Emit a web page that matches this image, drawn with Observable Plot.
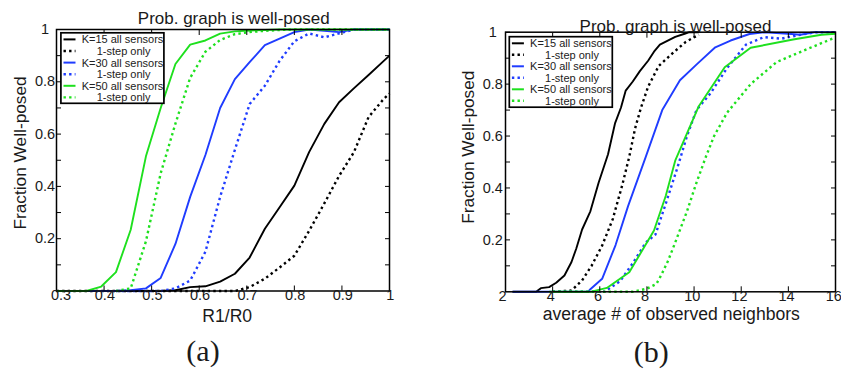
<!DOCTYPE html>
<html><head><meta charset="utf-8">
<script src="https://cdn.jsdelivr.net/npm/d3@7"></script>
<script src="https://cdn.jsdelivr.net/npm/@observablehq/plot@0.6"></script>
<style>
body{margin:0;background:#fff;}
#wrap{position:relative;width:841px;height:376px;overflow:hidden;font-family:"Liberation Sans",Arial,sans-serif;}
#wrap > svg{position:absolute;top:0;}
</style></head><body><div id="wrap"></div>
<script>
// ---------- data ----------
const titleText = "Prob. graph is well-posed";
const yLabelText = "Fraction Well-posed";
const xLabelA = "R1/R0";
const xLabelB = "average # of observed neighbors";
const captionA = "(a)";
const captionB = "(b)";
const legendLabels = ["K=15 all sensors", "1-step only", "K=30 all sensors", "1-step only", "K=50 all sensors", "1-step only"];
const seriesKeys = ["k15All", "k15Step", "k30All", "k30Step", "k50All", "k50Step"];

const xTicksA = [0.3, 0.4, 0.5, 0.6, 0.7, 0.8, 0.9, 1];
const xTicksB = [2, 4, 6, 8, 10, 12, 14, 16];
const yTicks = [0.1, 0.2, 0.3, 0.4, 0.5, 0.6, 0.7, 0.8, 0.9, 1];
const yTickLabels = [0.2, 0.4, 0.6, 0.8, 1];

// panel (a): R1/R0 grid
const xA = [0.3, 0.331, 0.363, 0.394, 0.425, 0.456, 0.488, 0.519, 0.55, 0.581, 0.613, 0.644, 0.675, 0.706, 0.738, 0.769, 0.8, 0.831, 0.863, 0.894, 0.925, 0.956, 0.988, 1.0];
const a_k15All  = [0, 0, 0, 0, 0, 0, 0, 0, 0.003, 0.015, 0.018, 0.036, 0.066, 0.128, 0.238, 0.32, 0.403, 0.531, 0.639, 0.722, 0.775, 0.826, 0.88, 0.90];
const a_k15Step = [0, 0, 0, 0, 0, 0, 0, 0, 0, 0, 0, 0, 0, 0.015, 0.047, 0.09, 0.135, 0.23, 0.335, 0.44, 0.53, 0.665, 0.735, 0.755];
const a_k30All  = [null, null, 0, 0, 0, 0.003, 0.01, 0.05, 0.18, 0.36, 0.52, 0.70, 0.81, 0.875, 0.94, 0.965, 0.99, 1.0, 0.995, 0.99, 1.0, 1.0, 1.0, 1.0];
const a_k30Step = [null, null, null, null, 0, 0, 0, 0, 0.01, 0.04, 0.15, 0.36, 0.54, 0.715, 0.785, 0.88, 0.955, 0.985, 0.97, 0.985, 1.0, 1.0, 1.0, 1.0];
const a_k50All  = [0, 0, 0, 0.017, 0.072, 0.234, 0.515, 0.70, 0.868, 0.942, 0.958, 0.984, 0.993, 0.996, 0.998, 1, 1, 1, 1, 1, 1, 1, 1, 1];
const a_k50Step = [null, null, null, null, 0, 0.01, 0.19, 0.45, 0.64, 0.815, 0.915, 0.96, 0.982, 0.99, 0.995, 0.998, 1, 1, 1, 1, 1, 1, 1, 1];

// panel (b): average # of observed neighbors
const b_k15All_x  = [2.3, 3.3, 3.5, 3.85, 4.15, 4.5, 4.8, 5.0, 5.25, 5.6, 5.95, 6.35, 6.65, 6.9, 7.1, 7.4, 7.7, 8.05, 8.3, 8.55, 9.2, 9.6, 9.8, 10.2];
const b_k15All_y  = [0, 0, 0.014, 0.018, 0.035, 0.063, 0.115, 0.166, 0.24, 0.31, 0.42, 0.53, 0.65, 0.71, 0.775, 0.81, 0.85, 0.89, 0.925, 0.952, 0.982, 0.994, 1.0, 1.0];
const b_k15Step_x = [4.0, 4.8, 5.25, 5.65, 6.1, 6.55, 6.95, 7.25, 7.5, 7.75, 8.05, 8.5, 9.1, 9.65, 10.2];
const b_k15Step_y = [0, 0.005, 0.044, 0.1, 0.178, 0.28, 0.41, 0.52, 0.63, 0.71, 0.79, 0.87, 0.92, 0.963, 0.99];
const b_k30All_x  = [2.3, 5.5, 5.6, 6.1, 6.67, 7.2, 7.95, 8.65, 9.4, 10.1, 10.9, 11.55, 12.35, 13.0, 14.0, 14.5, 15.1, 16];
const b_k30All_y  = [0, 0, 0.01, 0.05, 0.18, 0.33, 0.52, 0.70, 0.815, 0.875, 0.942, 0.968, 0.993, 1.0, 0.994, 0.99, 1.0, 1.0];
const b_k30Step_x = [4.0, 6.2, 6.85, 7.4, 7.95, 8.36, 8.8, 9.3, 9.7, 10.1, 10.7, 11.4, 12.2, 12.96, 13.7, 14.5, 15.2, 16];
const b_k30Step_y = [0, 0, 0.04, 0.11, 0.19, 0.22, 0.34, 0.48, 0.6, 0.7, 0.765, 0.862, 0.952, 0.981, 0.975, 0.99, 1.0, 1.0];
const b_k50All_x  = [3.85, 5.6, 6.3, 7.25, 8.3, 8.8, 9.2, 9.7, 10.2, 11.3, 12.4, 14.2, 15.4, 16];
const b_k50All_y  = [0, 0, 0.015, 0.075, 0.236, 0.37, 0.505, 0.61, 0.715, 0.865, 0.94, 0.972, 0.99, 0.994];
const b_k50Step_x = [4.0, 7.4, 8.0, 8.4, 8.6, 8.9, 9.2, 9.7, 10.1, 10.5, 10.85, 11.4, 12.4, 13.5, 14.8, 16];
const b_k50Step_y = [0, 0, 0.012, 0.03, 0.063, 0.12, 0.19, 0.31, 0.42, 0.52, 0.6, 0.69, 0.8, 0.885, 0.935, 0.98];

// ---------- styles ----------
const colors = {k15All: "#000000", k15Step: "#000000", k30All: "#1f3cff", k30Step: "#1f3cff", k50All: "#1ee01e", k50Step: "#1ee01e"};
const dotted = {k15All: false, k15Step: true, k30All: false, k30Step: true, k50All: false, k50Step: true};
const dash = "2.4,3.2";
const INK = "#1a1a1a";
const FONT = "Liberation Sans, Arial, Helvetica, sans-serif";

// ---------- build tables ----------
const panelA = {
  k15All: xA.map((x, i) => ({x, y: a_k15All[i]})),
  k15Step: xA.map((x, i) => ({x, y: a_k15Step[i]})),
  k30All: xA.map((x, i) => ({x, y: a_k30All[i]})),
  k30Step: xA.map((x, i) => ({x, y: a_k30Step[i]})),
  k50All: xA.map((x, i) => ({x, y: a_k50All[i]})),
  k50Step: xA.map((x, i) => ({x, y: a_k50Step[i]}))
};
const zip = (xs, ys) => xs.map((x, i) => ({x, y: ys[i]}));
const panelB = {
  k15All: zip(b_k15All_x, b_k15All_y),
  k15Step: zip(b_k15Step_x, b_k15Step_y),
  k30All: zip(b_k30All_x, b_k30All_y),
  k30Step: zip(b_k30Step_x, b_k30Step_y),
  k50All: zip(b_k50All_x, b_k50All_y),
  k50Step: zip(b_k50Step_x, b_k50Step_y)
};

const fmtX = d => (d === 1 ? "1" : String(d));
const fmtY = d => (d === 1 ? "1" : d.toFixed(1));

function lineMarks(panel) {
  const order = ["k15All", "k15Step", "k30Step", "k30All", "k50Step", "k50All"];
  return order.map(k => Plot.line(panel[k], {
    x: "x", y: "y", stroke: colors[k],
    strokeWidth: dotted[k] ? 2.4 : 1.9,
    strokeDasharray: dotted[k] ? dash : null,
    strokeLinecap: "butt"
  }));
}

function frameMarks(xTicks, cfg) {
  const first = xTicks.slice(0, 1), rest = xTicks.slice(1);
  return [
    Plot.frame({stroke: "#000", strokeWidth: 1.5}),
    Plot.axisX({anchor: "bottom", ticks: xTicks, tickSize: 5, dy: -5, tickFormat: () => "", label: null, stroke: "#000"}),
    Plot.axisX({anchor: "top", ticks: xTicks, tickSize: 5, dy: 5, tickFormat: () => "", label: null, stroke: "#000"}),
    Plot.axisY({anchor: "left", ticks: yTicks, tickSize: 5, dx: 5, tickFormat: () => "", label: null, stroke: "#000"}),
    Plot.axisY({anchor: "right", ticks: yTicks, tickSize: 5, dx: -5, tickFormat: () => "", label: null, stroke: "#000"}),
    Plot.text(first, {x: d => d, text: fmtX, frameAnchor: "bottom", dx: cfg.firstTickDx, dy: cfg.xTickDy, fontSize: 14.5, fill: INK}),
    Plot.text(rest, {x: d => d, text: fmtX, frameAnchor: "bottom", dx: cfg.xTickDx, dy: cfg.xTickDy, fontSize: 14.5, fill: INK}),
    Plot.text(yTickLabels, {y: d => d, text: fmtY, frameAnchor: "left", dx: cfg.yTickDx, textAnchor: "middle", fontSize: 14.5, fill: INK}),
    Plot.text([titleText], {text: d => d, frameAnchor: "top", dx: cfg.titleDx, dy: cfg.titleDy, fontSize: 17, fill: INK}),
    Plot.text([cfg.xLabel], {text: d => d, frameAnchor: "bottom", dx: cfg.xLabelDx, dy: cfg.xLabelDy, fontSize: 17.6, fill: INK}),
    Plot.text([yLabelText], {text: d => d, frameAnchor: "left", textAnchor: "middle", rotate: -90, dx: cfg.yLabelDx, dy: cfg.yLabelDy, fontSize: 17.3, fill: INK}),
    Plot.text([cfg.caption], {text: d => d, frameAnchor: "bottom", dx: cfg.capDx, dy: cfg.capDy, fontSize: 30, fontFamily: "Liberation Serif, Times New Roman, serif", fill: INK})
  ];
}

const plotA = Plot.plot({
  width: 420, height: 376,
  marginLeft: 56, marginRight: 31, marginTop: 29, marginBottom: 85.5,
  x: {domain: [0.3, 1], label: null},
  y: {domain: [0, 1], label: null},
  style: {fontFamily: FONT, color: INK, background: "transparent", overflow: "visible"},
  marks: [
    ...lineMarks(panelA),
    ...frameMarks(xTicksA, {firstTickDx: 4.5, xTickDx: 0.8, xTickDy: 9, yTickDx: -11.5, titleDx: 10.7, titleDy: -17.4, xLabel: xLabelA, xLabelDx: 4.2, xLabelDy: 30.5, yLabelDx: -36.4, yLabelDy: -7.3, caption: captionA, capDx: -20, capDy: 69.5})
  ]
});

const plotB = Plot.plot({
  width: 421, height: 376,
  marginLeft: 85, marginRight: 6, marginTop: 31.7, marginBottom: 84.7,
  x: {domain: [2, 16], label: null},
  y: {domain: [0, 1], label: null},
  style: {fontFamily: FONT, color: INK, background: "transparent", overflow: "visible"},
  marks: [
    ...lineMarks(panelB),
    ...frameMarks(xTicksB, {firstTickDx: -3, xTickDx: -1.8, xTickDy: 9.2, yTickDx: -12.7, titleDx: 5, titleDy: -12.1, xLabel: xLabelB, xLabelDx: 0.8, xLabelDy: 28.3, yLabelDx: -37.1, yLabelDy: -14.8, caption: captionB, capDx: -19.3, capDy: 70})
  ]
});

const wrap = document.getElementById("wrap");
plotA.style.left = "0px";
plotB.style.left = "420px";
wrap.appendChild(plotA);
wrap.appendChild(plotB);

// ---------- legends (overlay) ----------
const overlay = d3.select(wrap).append("svg")
  .attr("width", 841).attr("height", 376)
  .style("position", "absolute").style("left", "0px").style("top", "0px");

function drawLegend(box) {
  const g = overlay.append("g");
  g.append("rect").attr("x", box.x).attr("y", box.y).attr("width", 103).attr("height", 70.5)
    .attr("fill", "#fff").attr("stroke", "#000").attr("stroke-width", 1.7);
  seriesKeys.forEach((k, i) => {
    const cy = box.row0 + i * box.step;
    g.append("line").attr("x1", box.x + 2.6).attr("x2", box.x + 14.6).attr("y1", cy).attr("y2", cy)
      .attr("stroke", colors[k]).attr("stroke-width", dotted[k] ? 2.4 : 2)
      .attr("stroke-dasharray", dotted[k] ? dash : null);
    g.append("text").attr("x", box.x + (dotted[k] ? 35.8 : 20.8)).attr("y", cy + 4)
      .attr("font-family", FONT).attr("font-size", 11).attr("fill", "#222")
      .text(legendLabels[i]);
  });
}
drawLegend({x: 60.9, y: 32.8, row0: 39.4, step: 11.6});
drawLegend({x: 509.3, y: 36.7, row0: 43.3, step: 11.5});
</script></body></html>
